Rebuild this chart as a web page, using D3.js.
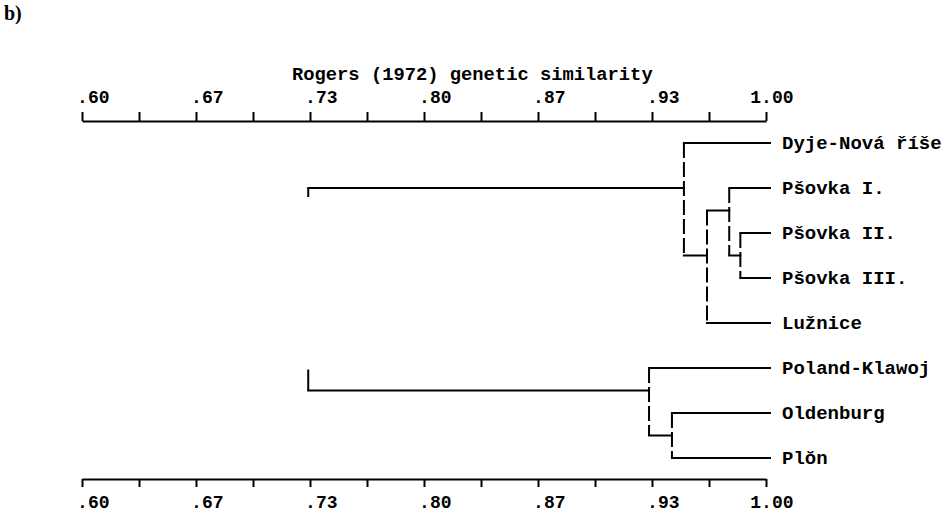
<!DOCTYPE html>
<html>
<head>
<meta charset="utf-8">
<script src="https://cdn.jsdelivr.net/npm/d3@7"></script>
<style>
  body { margin: 0; background: #fff; }
  text { font-family: "Liberation Mono", "DejaVu Sans Mono", monospace; fill: #000; }
</style>
</head>
<body>
<div id="container"></div>
<script>
/* DATA */
// axis: Rogers similarity from .60 to 1.00, a tick every 1/30, label every other tick
const simTicks = d3.range(13).map(i => 0.6 + i / 30);
const tickLabels = [".60", ".67", ".73", ".80", ".87", ".93", "1.00"];

// leaves, top to bottom
const leaves = ["Dyje-Nová říše", "Pšovka I.", "Pšovka II.", "Pšovka III.", "Lužnice",
                "Poland-Klawoj", "Oldenburg", "Plŏn"];

// merges: [node, child a, child b, similarity]
const merges = [
  ["N1", "Pšovka II.", "Pšovka III.", 0.985],
  ["N2", "Pšovka I.", "N1", 0.9785],
  ["N3", "N2", "Lužnice", 0.9655],
  ["N4", "Dyje-Nová říše", "N3", 0.952],
  ["N5", "Oldenburg", "Plŏn", 0.945],
  ["N6", "Poland-Klawoj", "N5", 0.9316],
  ["root", "N4", "N6", 0.7323]
];

/* CONSTANTS */
const width = 946, height = 515;
const topAxisY = 121, bottomAxisY = 479;
const fs = 18;   // tick label font size
const cw = 0.6 * fs;

const svg = d3.select("#container").append("svg")
  .attr("width", width)
  .attr("height", height);

const x = d3.scaleLinear().domain([0.6, 1.0]).range([82, 766]);
const y = d3.scaleLinear().domain([0, leaves.length - 1]).range([143, 458]);

// panel letter
svg.append("text")
  .attr("x", 4).attr("y", 20)
  .style("font-family", "'Liberation Serif', serif")
  .style("font-weight", "bold")
  .style("font-size", "20px")
  .text("b)");

// title
svg.append("text")
  .attr("x", 292).attr("y", 80)
  .style("font-weight", "bold")
  .style("font-size", "18.8px")
  .text("Rogers (1972) genetic similarity");

/* AXES */
const fmt = (d, i) => i % 2 ? "" : tickLabels[i / 2];

function styleAxis(g, textY) {
  g.select(".domain").attr("stroke", "#000").attr("stroke-width", 2);
  g.selectAll(".tick line").attr("stroke", "#000").attr("stroke-width", 2);
  g.selectAll(".tick text")
    .attr("text-anchor", "start")
    .attr("dy", 0)
    .attr("y", textY)
    .attr("x", function () {
      const s = d3.select(this).text();
      return -(s.indexOf(".") + 0.5) * cw;
    })
    .attr("fill", "#000")
    .style("font-family", "'Liberation Mono', monospace")
    .style("font-size", fs + "px")
    .style("font-weight", "bold");
}

svg.append("g")
  .attr("transform", `translate(0,${topAxisY})`)
  .call(d3.axisTop(x).tickValues(simTicks).tickFormat(fmt).tickSize(9).tickSizeOuter(0))
  .call(g => styleAxis(g, -18));

svg.append("g")
  .attr("transform", `translate(0,${bottomAxisY})`)
  .call(d3.axisBottom(x).tickValues(simTicks).tickFormat(fmt).tickSize(8).tickSizeOuter(0))
  .call(g => styleAxis(g, 29));

/* DENDROGRAM */
const leafEnd = x(1.0) + 4;
const pos = {};
leaves.forEach((name, i) => { pos[name] = { row: i, px: leafEnd }; });
merges.forEach(([id, a, b, sim]) => {
  // join row snaps down to the half-row grid
  const row = Math.floor(pos[a].row + pos[b].row) / 2;
  pos[id] = { row, px: x(sim), a, b };
});

const g = svg.append("g")
  .attr("fill", "none")
  .attr("stroke", "#000")
  .attr("stroke-width", 2);

merges.forEach(([id, a, b]) => {
  const nx = pos[id].px;
  const ya = y(pos[a].row), yb = y(pos[b].row);
  // horizontals to children
  [a, b].forEach(c => {
    g.append("line")
      .attr("x1", nx).attr("x2", pos[c].px)
      .attr("y1", y(pos[c].row)).attr("y2", y(pos[c].row))
      .attr("stroke-linecap", "square");
  });
  // vertical (root one only shows its end stubs in the original)
  const len = yb - ya;
  g.append("line")
    .attr("x1", nx).attr("x2", nx)
    .attr("y1", ya).attr("y2", yb)
    .attr("stroke-dasharray", id === "root" ? `9,${len - 30},21` : "15,4");
});

// leaf labels
svg.append("g").selectAll("text")
  .data(leaves)
  .join("text")
  .attr("x", 782)
  .attr("y", d => y(pos[d].row) + 5.5)
  .style("font-size", "19px")
  .style("font-weight", "bold")
  .text(d => d);
</script>
</body>
</html>
